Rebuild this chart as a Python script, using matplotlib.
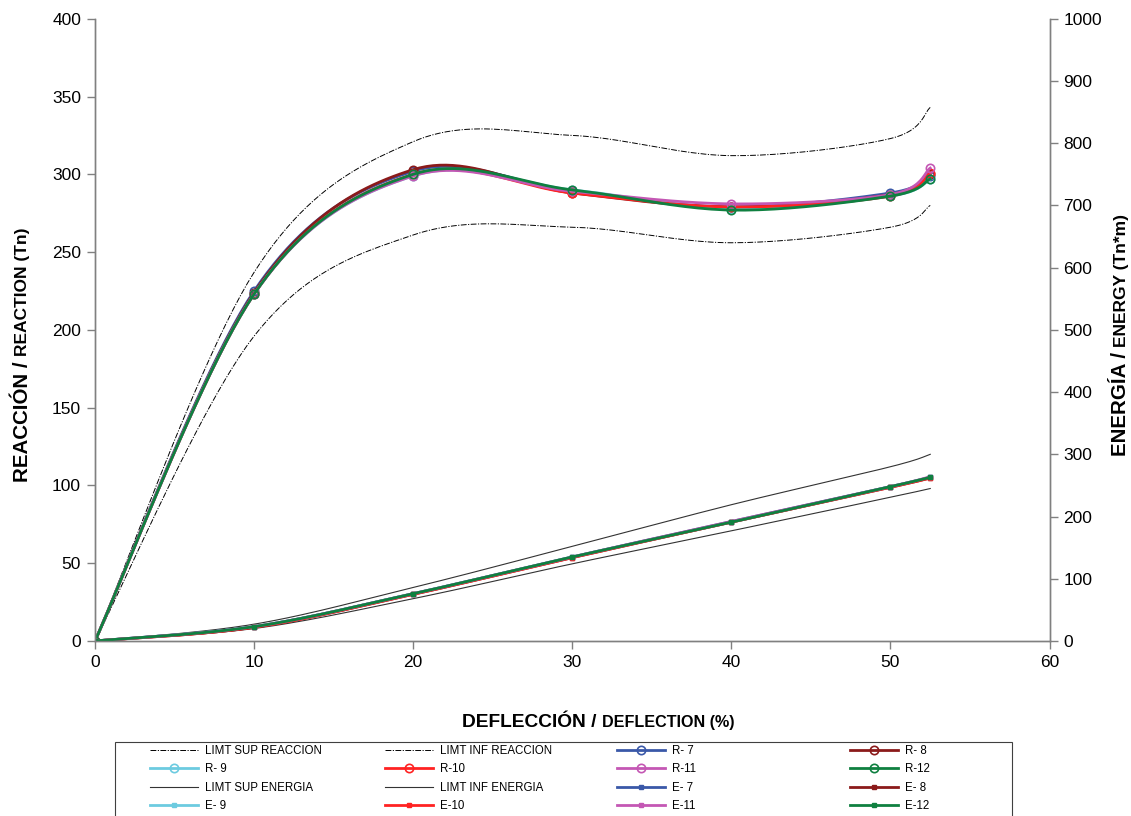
import numpy as np
import matplotlib.pyplot as plt
from matplotlib.patches import Rectangle

plt.rcParams['font.family'] = ['Liberation Sans', 'DejaVu Sans']

# deflexion (%) de cada ensayo
defl = [0, 10, 20, 30, 40, 50, 52.5]

# reaccion (Tn)
lim_sup_reac = [0, 237, 321, 325, 312, 323, 343]
lim_inf_reac = [0, 196, 261, 266, 256, 266, 280]
reac = {
    'R- 7': [0, 225, 302, 289, 279, 288, 299],
    'R- 8': [0, 224, 303, 288, 279, 287, 300],
    'R- 9': [0, 223, 299, 290, 278, 286, 297],
    'R-10': [0, 223, 300, 288, 279, 286, 301],
    'R-11': [0, 223, 299, 289, 281, 287, 304],
    'R-12': [0, 223, 300, 290, 277, 286, 297],
}

# energia (Tn*m)
lim_sup_ener = [0, 27, 86, 152, 219, 280, 300]
lim_inf_ener = [0, 20, 68, 124, 177, 231, 245]
ener = {
    'E- 7': [0, 23, 76, 135, 192, 248, 263],
    'E- 8': [0, 22, 75, 134, 191, 247, 262],
    'E- 9': [0, 23, 76, 135, 191, 248, 263],
    'E-10': [0, 22, 75, 134, 191, 247, 262],
    'E-11': [0, 23, 76, 135, 192, 248, 264],
    'E-12': [0, 23, 76, 135, 191, 248, 263],
}

colores = ['#3a58a8', '#8b1a1a', '#6ccbe0', '#ff2222', '#c457b4', '#0f8040']


def suavizar(x, y, n=24):
    # linea suavizada tipo Excel (bezier por tramos) que pasa por los puntos
    p = np.column_stack([x, y]).astype(float)
    p = np.vstack([p[0], p, p[-1]])
    t = np.linspace(0, 1, n, endpoint=False)[:, None]
    tramos = []
    for i in range(1, len(p) - 2):
        p0, p1, p2, p3 = p[i - 1], p[i], p[i + 1], p[i + 2]
        c1 = p1 + (p2 - p0) / 6
        c2 = p2 - (p3 - p1) / 6
        b = ((1 - t) ** 3) * p1 + 3 * ((1 - t) ** 2) * t * c1 \
            + 3 * (1 - t) * t ** 2 * c2 + t ** 3 * p2
        tramos.append(b)
    tramos.append(p[-2][None, :])
    c = np.vstack(tramos)
    idx = [i * n for i in range(len(x))]
    return c[:, 0], c[:, 1], idx


W, H = 1131, 816
fig = plt.figure(figsize=(W / 100, H / 100), dpi=100)
ax1 = fig.add_axes([0.084, 0.2145, 0.844, 0.7625])
ax2 = ax1.twinx()

dashdot = (0, (6, 1.5, 1.2, 1.5))
lineas = []

xs, ys, _ = suavizar(defl, lim_sup_reac)
l, = ax1.plot(xs, ys, color='black', lw=0.7, linestyle=dashdot, label='LIMT SUP REACCION')
lineas.append(l)
xs, ys, _ = suavizar(defl, lim_inf_reac)
l, = ax1.plot(xs, ys, color='black', lw=0.7, linestyle=dashdot, label='LIMT INF REACCION')
lineas.append(l)

for (nombre, vals), col in zip(reac.items(), colores):
    xs, ys, idx = suavizar(defl, vals)
    l, = ax1.plot(xs, ys, color=col, lw=2, marker='o', markevery=idx,
                  markersize=6, markerfacecolor='none', markeredgewidth=1.2,
                  label=nombre)
    lineas.append(l)

xs, ys, _ = suavizar(defl, lim_sup_ener)
l, = ax2.plot(xs, ys, color='#333333', lw=0.8, label='LIMT SUP ENERGIA')
lineas.append(l)
xs, ys, _ = suavizar(defl, lim_inf_ener)
l, = ax2.plot(xs, ys, color='#333333', lw=0.8, label='LIMT INF ENERGIA')
lineas.append(l)

for (nombre, vals), col in zip(ener.items(), colores):
    xs, ys, idx = suavizar(defl, vals)
    l, = ax2.plot(xs, ys, color=col, lw=2, marker='s', markevery=idx,
                  markersize=2.5, label=nombre)
    lineas.append(l)

ax1.set_xlim(0, 60)
ax1.set_ylim(0, 400)
ax2.set_ylim(0, 1000)
ax1.set_xticks(range(0, 61, 10))
ax1.set_yticks(range(0, 401, 50))
ax2.set_yticks(range(0, 1001, 100))

for ax in (ax1, ax2):
    ax.spines['top'].set_visible(False)
    for s in ('left', 'right', 'bottom'):
        ax.spines[s].set_color('#808080')
        ax.spines[s].set_linewidth(1)
    ax.tick_params(direction='out', length=6, width=1, color='#808080',
                   labelsize=12.5, pad=4)

# titulos de ejes (parte en ingles mas pequena), alineados por la linea base
yx = 1 - 727 / H
fig.text(0, yx, 'DEFLECCIÓN / ', fontsize=13.8, fontweight='bold',
         ha='left', va='baseline')
fig.text(0, yx, 'DEFLECTION (%)', fontsize=11.6, fontweight='bold',
         ha='left', va='baseline')

for xb, a, b in ((27.5, 'REACCIÓN / ', 'REACTION (Tn)'),
                 (1126, 'ENERGÍA / ', 'ENERGY (Tn*m)')):
    fig.text(xb / W, 0.5, a, fontsize=14.8, fontweight='bold', rotation=90,
             ha='left', va='baseline', rotation_mode='anchor')
    fig.text(xb / W, 0.5, b, fontsize=12.5, fontweight='bold', rotation=90,
             ha='left', va='baseline', rotation_mode='anchor')

fig.canvas.draw()
r = fig.canvas.get_renderer()
textos = fig.texts
w1 = textos[0].get_window_extent(r).width
w2 = textos[1].get_window_extent(r).width
x0 = 598 - (w1 + w2) / 2
textos[0].set_position((x0 / W, yx))
textos[1].set_position(((x0 + w1) / W, yx))

for i, centro in ((2, 355), (4, 335)):
    h1 = textos[i].get_window_extent(r).height
    h2 = textos[i + 1].get_window_extent(r).height
    y0 = (H - centro) - (h1 + h2) / 2
    xpos = textos[i].get_position()[0]
    textos[i].set_position((xpos, y0 / H))
    textos[i + 1].set_position((xpos, (y0 + h1) / H))

# leyenda: cuatro columnas de igual paso, llenada por filas
fig.patches.append(Rectangle((115 / W, -0.01), 897 / W, 0.01 + 1 - 742 / H,
                             transform=fig.transFigure, fill=False,
                             edgecolor='#404040', lw=0.8))
for c, xc in enumerate([150, 385, 617, 850]):
    hs = [lineas[f * 4 + c] for f in range(4)]
    fig.legend(hs, [h.get_label() for h in hs], ncol=1, loc='upper left',
               bbox_to_anchor=(xc / W, 1 - 745 / H), frameon=False,
               fontsize=8.3, handlelength=4.17, handletextpad=0.6,
               labelspacing=0.56, borderpad=0, borderaxespad=0)

fig.savefig('out.png', dpi=100)
